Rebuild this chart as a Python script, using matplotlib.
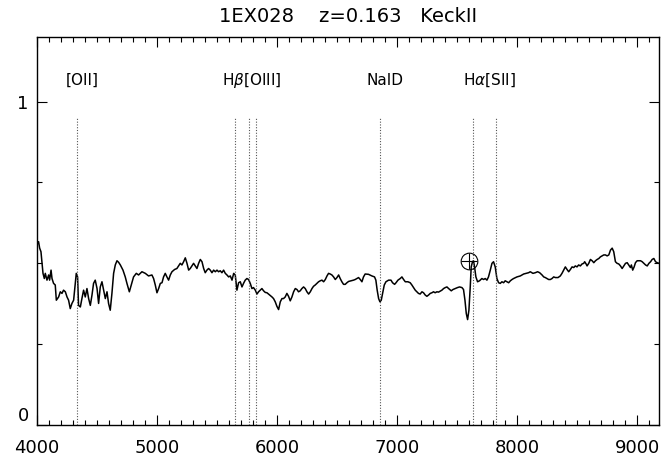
import matplotlib.pyplot as plt
import numpy as np
from matplotlib.ticker import MultipleLocator, FixedLocator

# observed spectrum, normalised flux
wave = [4000, 4013, 4022, 4033, 4042, 4050, 4061, 4069, 4083, 4097, 4105, 4117, 4125, 4138, 4152,
        4161, 4180, 4194, 4208, 4221, 4236, 4250, 4263, 4277, 4291, 4305, 4319, 4327, 4338, 4346,
        4361, 4374, 4388, 4402, 4416, 4430, 4444, 4458, 4471, 4485, 4500, 4513, 4527, 4541, 4555,
        4569, 4583, 4596, 4610, 4624, 4638, 4652, 4666, 4680, 4694, 4716, 4735, 4749, 4769, 4785,
        4804, 4827, 4846, 4874, 4902, 4929, 4957, 4971, 4985, 4999, 5013, 5027, 5041, 5054, 5068,
        5082, 5096, 5110, 5124, 5146, 5165, 5179, 5193, 5207, 5221, 5235, 5249, 5263, 5276, 5290,
        5304, 5318, 5332, 5346, 5360, 5374, 5388, 5401, 5415, 5429, 5443, 5457, 5471, 5485, 5499,
        5512, 5526, 5540, 5554, 5568, 5582, 5596, 5610, 5624, 5638, 5651, 5665, 5679, 5693, 5707,
        5720, 5734, 5748, 5762, 5776, 5790, 5803, 5818, 5832, 5845, 5859, 5873, 5887, 5901, 5915,
        5928, 5942, 5957, 5970, 5984, 5998, 6012, 6026, 6040, 6053, 6067, 6081, 6095, 6109, 6123,
        6137, 6151, 6165, 6178, 6192, 6206, 6220, 6234, 6248, 6262, 6276, 6290, 6303, 6317, 6331,
        6345, 6359, 6373, 6387, 6401, 6415, 6428, 6442, 6456, 6470, 6484, 6498, 6512, 6525, 6539,
        6553, 6567, 6581, 6595, 6617, 6636, 6650, 6664, 6678, 6692, 6706, 6719, 6733, 6761, 6789,
        6811, 6822, 6833, 6845, 6856, 6867, 6878, 6892, 6906, 6928, 6948, 6961, 6978, 6990, 7006,
        7025, 7039, 7053, 7067, 7089, 7108, 7122, 7136, 7150, 7164, 7177, 7191, 7206, 7219, 7233,
        7247, 7261, 7275, 7289, 7302, 7316, 7330, 7344, 7358, 7372, 7386, 7400, 7414, 7428, 7450,
        7464, 7483, 7502, 7519, 7539, 7552, 7564, 7575, 7586, 7597, 7608, 7616, 7627, 7635, 7644,
        7655, 7669, 7685, 7705, 7719, 7733, 7747, 7760, 7775, 7789, 7802, 7816, 7830, 7844, 7858,
        7872, 7886, 7899, 7914, 7928, 7942, 7956, 7969, 7997, 8025, 8053, 8075, 8094, 8108, 8130,
        8150, 8169, 8186, 8206, 8220, 8233, 8247, 8261, 8275, 8289, 8303, 8317, 8339, 8358, 8372,
        8386, 8400, 8414, 8428, 8442, 8456, 8470, 8483, 8497, 8511, 8525, 8539, 8553, 8561, 8573,
        8581, 8595, 8609, 8623, 8637, 8651, 8665, 8679, 8692, 8706, 8720, 8734, 8748, 8762, 8776,
        8790, 8803, 8817, 8831, 8845, 8859, 8873, 8887, 8901, 8915, 8928, 8942, 8950, 8961, 8973,
        8984, 8998, 9012, 9026, 9040, 9054, 9068, 9082, 9096, 9110, 9123, 9137, 9151, 9165, 9180]
flux = [.557, .567, .547, .536, .500, .469, .453, .469, .448, .464, .448, .479, .453, .438, .433,
        .386, .396, .412, .407, .417, .412, .396, .386, .360, .376, .386, .438, .469, .458, .370,
        .365, .391, .417, .396, .422, .391, .370, .402, .438, .448, .422, .376, .427, .443, .417,
        .391, .412, .376, .355, .407, .469, .495, .508, .503, .495, .479, .458, .438, .412, .433,
        .458, .469, .464, .474, .469, .461, .464, .453, .433, .409, .422, .438, .440, .458, .469,
        .458, .448, .464, .474, .481, .484, .492, .500, .495, .505, .517, .500, .479, .484, .492,
        .500, .492, .484, .500, .512, .505, .484, .471, .479, .484, .479, .471, .479, .474, .479,
        .474, .477, .471, .479, .469, .464, .458, .461, .448, .469, .464, .417, .440, .443, .427,
        .438, .448, .453, .450, .438, .422, .425, .417, .405, .412, .417, .422, .415, .410, .409,
        .405, .401, .396, .391, .381, .367, .357, .381, .391, .391, .396, .407, .398, .384, .396,
        .412, .422, .419, .412, .415, .422, .427, .422, .412, .405, .412, .422, .429, .433, .438,
        .443, .446, .448, .443, .450, .461, .469, .467, .464, .458, .450, .456, .464, .453, .443,
        .435, .435, .440, .444, .446, .448, .450, .453, .456, .450, .443, .458, .467, .466, .461,
        .458, .448, .417, .391, .381, .386, .407, .433, .443, .448, .448, .440, .435, .440, .448,
        .453, .458, .450, .443, .443, .440, .433, .425, .417, .412, .407, .405, .412, .409, .402,
        .398, .402, .407, .409, .412, .409, .412, .411, .414, .417, .422, .425, .427, .422, .415,
        .419, .422, .425, .427, .425, .419, .386, .345, .326, .355, .427, .489, .505, .508, .489,
        .458, .443, .446, .453, .450, .453, .448, .458, .479, .500, .505, .489, .453, .440, .438,
        .443, .440, .446, .443, .440, .446, .450, .453, .458, .461, .467, .469, .471, .474, .469,
        .471, .474, .471, .464, .458, .456, .453, .450, .450, .453, .458, .456, .456, .461, .469,
        .479, .489, .481, .474, .481, .489, .487, .492, .489, .495, .492, .498, .500, .505, .498,
        .492, .500, .512, .508, .502, .508, .512, .515, .520, .523, .526, .526, .523, .526, .541,
        .547, .536, .505, .500, .498, .492, .484, .492, .500, .502, .495, .487, .495, .479, .489,
        .502, .508, .508, .508, .505, .500, .495, .492, .500, .505, .512, .515, .505, .502, .500]

# redshifted line positions and their labels
line_waves = [4334, 5653, 5767, 5823, 6853, 7633, 7820]
label_text = ['[OII]', r'H$\beta$[OIII]', 'NaID', r'H$\alpha$[SII]']
label_x = [4375, 5790, 6900, 7770]
marker_x = [7600]
marker_y = [0.507]

fig = plt.figure(figsize=(6.62, 4.66), dpi=100)
ax = fig.add_axes([37 / 662, 41 / 466, 622 / 662, 388 / 466])

ax.plot(wave, flux, color='black', linewidth=1.1)

for w in line_waves:
    ax.plot([w, w], [0, 0.95], color='#555555', linewidth=0.8,
            linestyle=(0, (1, 1.5)))

for txt, lx in zip(label_text, label_x):
    ax.text(lx, 1.065, txt, ha='center', va='center', fontsize=11)

ax.plot(marker_x, marker_y, marker='o', markersize=12, markerfacecolor='none',
        markeredgecolor='black', markeredgewidth=0.8, linestyle='none')
ax.plot(marker_x, marker_y, marker='+', markersize=12, color='black',
        markeredgewidth=0.8, linestyle='none')

ax.set_xlim(4000, 9180)
ax.set_ylim(0, 1.2)

ax.xaxis.set_major_locator(MultipleLocator(1000))
ax.xaxis.set_minor_locator(MultipleLocator(100))
ax.yaxis.set_major_locator(FixedLocator([0, 1]))
ax.yaxis.set_minor_locator(FixedLocator([0.25, 0.5, 0.75]))

ax.tick_params(which='both', direction='in', top=True, right=True, width=0.8)
ax.tick_params(which='major', length=7, labelsize=13)
ax.tick_params(which='minor', length=3.5)
ax.tick_params(axis='x', which='major', pad=10)
ax.tick_params(axis='y', which='major', pad=6)

# IDL-style: the zero label sits just above the bottom axis
fig.canvas.draw()
ax.get_yticklabels()[0].set_verticalalignment('bottom')

for s in ax.spines.values():
    s.set_linewidth(1.0)

ax.set_title('1EX028    z=0.163   KeckII', fontsize=14, pad=11)

fig.savefig('out.png', dpi=100)
